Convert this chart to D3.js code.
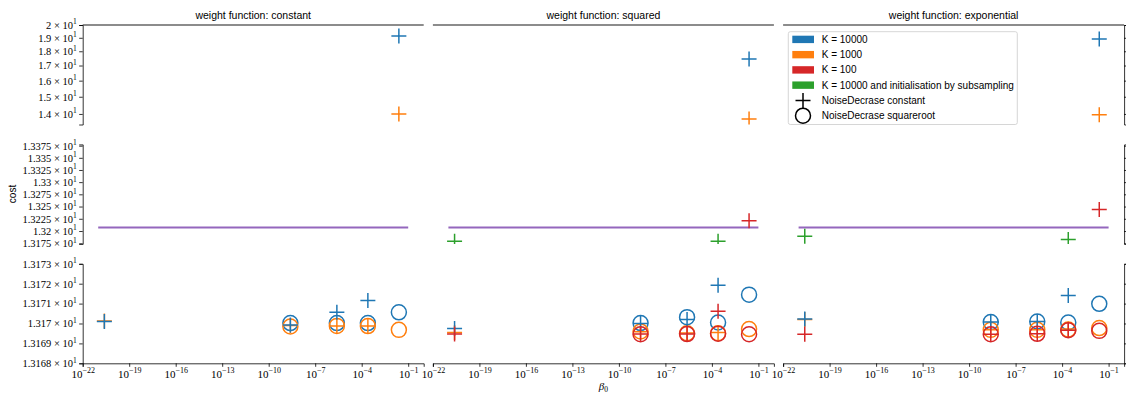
<!DOCTYPE html>
<html><head><meta charset="utf-8">
<script src="https://cdn.jsdelivr.net/npm/d3@7"></script>
<style>html,body{margin:0;padding:0;background:#fff;}</style>
</head><body>
<svg id="chart" width="1126" height="394"></svg>
<script>
// ---------------- data ----------------
const panelTitles = ["weight function: constant", "weight function: squared", "weight function: exponential"];
const betas = [2.5e-21, 2.5e-9, 2.5e-6, 2.5e-4, 2.5e-2];
// one row per panel (constant, squared, exponential), one value per beta
const plusK10000 = [
  [13.1701, 13.16992, 13.17056, 13.17116, 19.14],
  [13.16975, 13.1700, 13.1702, 13.17192, 17.45],
  [13.17022, 13.17008, 13.1701, 13.17141, 18.91]];
const plusK1000 = [
  [13.17013, 13.1699, 13.16988, 13.16988, 14.0],
  [13.16955, 13.16958, 13.16952, 13.16955, 13.72],
  [13.1702, 13.16968, 13.16968, 13.16972, 13.95]];
const plusK100 = [
  [null, null, null, null, null],
  [13.16947, 13.16947, 13.16947, 13.17061, 13.221],
  [13.16946, 13.16946, 13.16948, 13.16966, 13.244]];
const plusK10000Sub = [
  [null, null, null, null, null],
  [13.179, null, null, 13.179, null],
  [13.1895, null, null, 13.183, null]];
const circleK10000 = [
  [null, 13.17002, 13.17002, 13.17002, 13.17056],
  [null, 13.17002, 13.17032, 13.17005, 13.17145],
  [null, 13.17007, 13.1701, 13.17005, 13.17099]];
const circleK1000 = [
  [null, 13.16985, 13.16988, 13.16987, 13.16968],
  [null, 13.1696, 13.16951, 13.16951, 13.16972],
  [null, 13.16968, 13.16968, 13.1697, 13.16977]];
const circleK100 = [
  [null, null, null, null, null],
  [null, 13.16946, 13.16947, 13.16949, 13.16946],
  [null, 13.16946, 13.16948, 13.16966, 13.16963]];
const referenceCost = 13.207;
const referenceBetas = [1e-21, 1e-1];

const legendLabels = ["K = 10000", "K = 1000", "K = 100", "K = 10000 and initialisation by subsampling"];
const markerLabels = ["NoiseDecrase constant", "NoiseDecrase squareroot"];

const xTickExps = [-22, -19, -16, -13, -10, -7, -4, -1];
const rowTicks = [
  [20, 19, 18, 17, 16, 15, 14],
  [13.375, 13.35, 13.325, 13.3, 13.275, 13.25, 13.225, 13.2, 13.175],
  [13.173, 13.172, 13.171, 13.17, 13.169, 13.168]];
const rowTickLabels = [
  ["2", "1.9", "1.8", "1.7", "1.6", "1.5", "1.4"],
  ["1.3375", "1.335", "1.3325", "1.33", "1.3275", "1.325", "1.3225", "1.32", "1.3175"],
  ["1.3173", "1.3172", "1.3171", "1.317", "1.3169", "1.3168"]];
const rowDomains = [[13.42, 20], [13.1738, 13.3777], [13.168, 13.173]];

// ---------------- layout ----------------
const colX = [82.7, 432.9, 783.1], colW = 341;
const rowY = [25, 144.4, 263.8], rowH = 99.5;
const C = {blue: "#1f77b4", orange: "#ff7f0e", red: "#d62728", green: "#2ca02c", purple: "#9467bd"};
const serif = "'Liberation Serif', 'DejaVu Serif', serif";
const sans = "'Liberation Sans', 'DejaVu Sans', sans-serif";
const MS = 7.5;

const svg = d3.select("#chart");
const defs = svg.append("defs");

const markerSeries = [
  {data: circleK10000, color: C.blue, shape: "o"},
  {data: circleK1000, color: C.orange, shape: "o"},
  {data: plusK1000, color: C.orange, shape: "+"},
  {data: plusK10000, color: C.blue, shape: "+"},
  {data: circleK100, color: C.red, shape: "o"},
  {data: plusK100, color: C.red, shape: "+"},
  {data: plusK10000Sub, color: C.green, shape: "+"}];

const plusPath = `M${-MS},0H${MS}M0,${-MS}V${MS}`;

function supText(sel, base, sup, supSize, dy) {
  sel.text(null);
  sel.append("tspan").text(base);
  sel.append("tspan").attr("dy", dy).attr("font-size", supSize).text(sup);
}

for (let c = 0; c < 3; c++) {
  const x = d3.scaleLog().domain([1e-22, 1]).range([colX[c], colX[c] + colW]);
  for (let r = 0; r < 3; r++) {
    const dom = rowDomains[r];
    const y = d3.scaleLog().domain(dom).range([rowY[r] + rowH, rowY[r]]);
    const id = `clip-${c}-${r}`;
    defs.append("clipPath").attr("id", id).append("rect")
      .attr("x", colX[c]).attr("y", rowY[r]).attr("width", colW).attr("height", rowH);
    const g = svg.append("g").attr("clip-path", `url(#${id})`);
    // reference line
    g.append("line")
      .attr("x1", x(referenceBetas[0])).attr("x2", x(referenceBetas[1]))
      .attr("y1", y(referenceCost)).attr("y2", y(referenceCost))
      .attr("stroke", C.purple).attr("stroke-width", 2);
    // markers (only those whose centre falls inside this axes, as matplotlib does)
    markerSeries.forEach(s => {
      const pts = betas.map((b, i) => ({b, v: s.data[c][i]}))
        .filter(d => d.v != null && d.v >= dom[0] && d.v <= dom[1]);
      if (s.shape === "o") {
        g.selectAll(null).data(pts).enter().append("circle")
          .attr("cx", d => x(d.b)).attr("cy", d => y(d.v)).attr("r", MS)
          .attr("fill", "none").attr("stroke", s.color).attr("stroke-width", 1.5);
      } else {
        g.selectAll(null).data(pts).enter().append("path")
          .attr("transform", d => `translate(${x(d.b)},${y(d.v)})`)
          .attr("d", plusPath).attr("fill", "none").attr("stroke", s.color).attr("stroke-width", 1.5);
      }
    });

    // spines / axes
    if (r === 0) svg.append("line").attr("x1", colX[c]).attr("y1", rowY[r]).attr("x2", colX[c] + colW).attr("y2", rowY[r])
      .attr("stroke", "#666").attr("stroke-width", 1.6);
    if (c === 0) {
      const ax = svg.append("g").attr("transform", `translate(${colX[c]},0)`)
        .call(d3.axisLeft(y).tickValues(rowTicks[r]).tickSize(3.5).tickPadding(2.5).tickFormat((d, i) => rowTickLabels[r][i]));
      ax.select(".domain").attr("stroke-width", 0.8);
      ax.selectAll(".tick line").attr("stroke-width", 0.8);
      ax.selectAll(".tick text").attr("font-family", serif).attr("font-size", 10.5).attr("fill", "#000")
        .each(function(d, i) { supText(d3.select(this), rowTickLabels[r][i] + " \u00d7 10", "1", 7.5, -4.5); });
    }
    if (c === 2) {
      const ax = svg.append("g").attr("transform", `translate(${colX[c] + colW},0)`)
        .call(d3.axisRight(y).tickValues(rowTicks[r]).tickSize(3.5).tickFormat(""));
      ax.select(".domain").attr("stroke-width", 0.8);
      ax.selectAll(".tick line").attr("stroke-width", 0.8);
    }
    if (r === 2) {
      const ax = svg.append("g").attr("transform", `translate(0,${rowY[r] + rowH})`)
        .call(d3.axisBottom(x).tickValues(xTickExps.map(e => Math.pow(10, e))).tickSize(3.5).tickPadding(3).tickFormat(""));
      ax.select(".domain").attr("stroke-width", 0.8);
      ax.selectAll(".tick line").attr("stroke-width", 0.8);
      ax.selectAll(".tick text").attr("font-family", serif).attr("font-size", 11).attr("fill", "#000")
        .each(function(d, i) { supText(d3.select(this), "10", "\u2212" + (-xTickExps[i]), 8, -4.5); });
    }
  }
  svg.append("text").attr("x", colX[c] + colW / 2).attr("y", 19).attr("text-anchor", "middle")
    .attr("font-family", sans).attr("font-size", 10.5).attr("fill", "#000").text(panelTitles[c]);
}

// axis labels
svg.append("text").attr("transform", "translate(16,194) rotate(-90)").attr("text-anchor", "middle")
  .attr("font-family", sans).attr("font-size", 10).text("cost");
const xl = svg.append("text").attr("x", colX[1] + colW / 2).attr("y", 390).attr("text-anchor", "middle")
  .attr("font-family", serif).attr("font-size", 11);
xl.append("tspan").attr("font-style", "italic").text("\u03b2");
xl.append("tspan").attr("dy", 2).attr("font-size", 7.5).text("0");

// legend
const lg = svg.append("g");
lg.append("rect").attr("x", 788.3).attr("y", 31.7).attr("width", 229).attr("height", 92.8).attr("rx", 2)
  .attr("fill", "#fff").attr("fill-opacity", 0.8).attr("stroke", "#ccc").attr("stroke-width", 0.8);
const legendColors = [C.blue, C.orange, C.red, C.green];
const rowStep = 15.25, row0 = 39.4;
legendLabels.forEach((t, i) => {
  const cy = row0 + i * rowStep;
  lg.append("rect").attr("x", 792.3).attr("y", cy - 3.7).attr("width", 21.7).attr("height", 7.4).attr("fill", legendColors[i]);
  lg.append("text").attr("x", 821.7).attr("y", cy + 3.5).attr("font-family", sans).attr("font-size", 10).text(t);
});
markerLabels.forEach((t, i) => {
  const cy = row0 + (4 + i) * rowStep;
  if (i === 0) lg.append("path").attr("transform", `translate(803,${cy})`).attr("d", plusPath).attr("stroke", "#000").attr("stroke-width", 1.5).attr("fill", "none");
  else lg.append("circle").attr("cx", 803).attr("cy", cy).attr("r", MS).attr("stroke", "#000").attr("stroke-width", 1.5).attr("fill", "none");
  lg.append("text").attr("x", 821.7).attr("y", cy + 3.5).attr("font-family", sans).attr("font-size", 10).text(t);
});
</script>
</body></html>
